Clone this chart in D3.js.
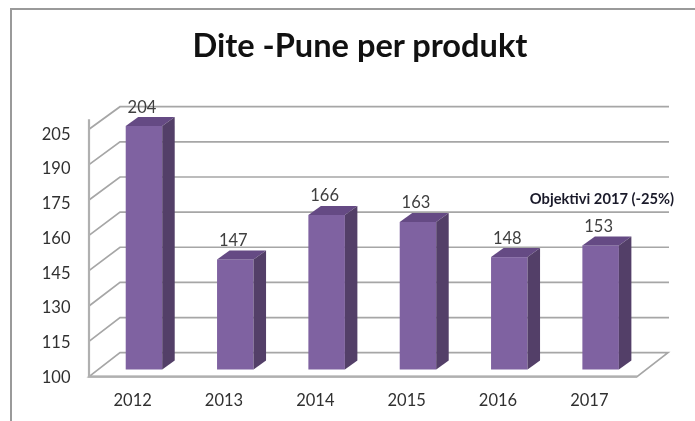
<!DOCTYPE html>
<html><head><meta charset="utf-8">
<style>html,body{margin:0;padding:0;background:#fff}svg{display:block;filter:blur(.4px)}text{font-family:Lato,"Open Sans",sans-serif}</style>
<script src="https://cdn.jsdelivr.net/npm/d3@7"></script></head>
<body><script>
const years=["2012","2013","2014","2015","2016","2017"];
const values=[204,147,166,163,148,153];
const ticks=[100,115,130,145,160,175,190,205];
const title="Dite -Pune per produkt";
const note="Objektivi 2017 (-25%)";
const W=695,H=421;
const svg=d3.select("body").append("svg").attr("width",W).attr("height",H);
const yFront=d3.scaleLinear().domain([100,205]).range([376.7,129.3]);
const yBack=d3.scaleLinear().domain([100,205]).range([352.7,106.7]);
const yBar=d3.scaleLinear().domain([100,204]).range([369.5,126]);
const yLabel=d3.scaleLinear().domain([100,205]).range([383,139.5]);
const x=d3.scaleBand().domain(years).range([89,637]);
const backDx=31, barShift=9.3, bw=36.5, dx=12.5, dy=9;
svg.append("path").attr("d","M11,421V9H695").attr("fill","none").attr("stroke","#9a9a9a").attr("stroke-width",2);
const grid="#a6a6a6";
ticks.filter(t=>t>100).forEach(t=>{
 svg.append("path").attr("d",`M89,${yFront(t)}L${89+backDx},${yBack(t)}H${637+backDx+1}`).attr("fill","none").attr("stroke",grid).attr("stroke-width",1.7);
});
svg.append("path").attr("d",`M89,${yFront(100)}L${89+backDx},${yBack(100)}H${637+backDx}L637,${yFront(100)}Z`).attr("fill","none").attr("stroke",grid).attr("stroke-width",1.7);
svg.append("path").attr("d",`M89,${yFront(205)-10}V${yFront(100)}H637`).attr("fill","none").attr("stroke","#b0b0b0").attr("stroke-width",2.2);
const g=svg.selectAll("g.bar").data(years.map((c,i)=>({c,v:values[i]}))).join("g").attr("class","bar");
const bx=d=>x(d.c)+x.bandwidth()/2-bw/2+barShift;
const by=d=>yBar(d.v);
const base=yBar(100);
g.append("rect").attr("x",bx).attr("y",by).attr("width",bw).attr("height",d=>base-by(d)).attr("fill","#7f62a1");
g.append("path").attr("fill","#654a84").attr("d",d=>{const l=bx(d),t=by(d);return `M${l},${t}l${dx},${-dy}h${bw}l${-dx},${dy}Z`;});
g.append("path").attr("fill","#533f68").attr("d",d=>{const r=bx(d)+bw,t=by(d);return `M${r},${t}l${dx},${-dy}V${base-dy}l${-dx},${dy}Z`;});
g.append("text").attr("x",d=>bx(d)+bw/2-2).attr("y",d=>by(d)-dy-4.5).attr("text-anchor","middle").attr("font-size",16.5).attr("fill","#404040").text(d=>d.v);
svg.selectAll("text.yt").data(ticks).join("text").attr("class","yt").attr("x",70.5).attr("y",t=>yLabel(t)).attr("text-anchor","end").attr("font-size",16.5).attr("fill","#303030").text(t=>t);
svg.selectAll("text.xt").data(years).join("text").attr("class","xt").attr("x",c=>x(c)+x.bandwidth()/2-2).attr("y",406).attr("text-anchor","middle").attr("font-size",16.5).attr("fill","#303030").text(c=>c);
svg.append("text").attr("x",360).attr("y",57).attr("text-anchor","middle").attr("font-size",32.6).attr("font-weight",700).attr("fill","#111").text(title);
svg.append("text").attr("x",602).attr("y",204).attr("text-anchor","middle").attr("font-size",14.7).attr("font-weight",700).attr("fill","#1a1a2a").text(note);
</script></body></html>
